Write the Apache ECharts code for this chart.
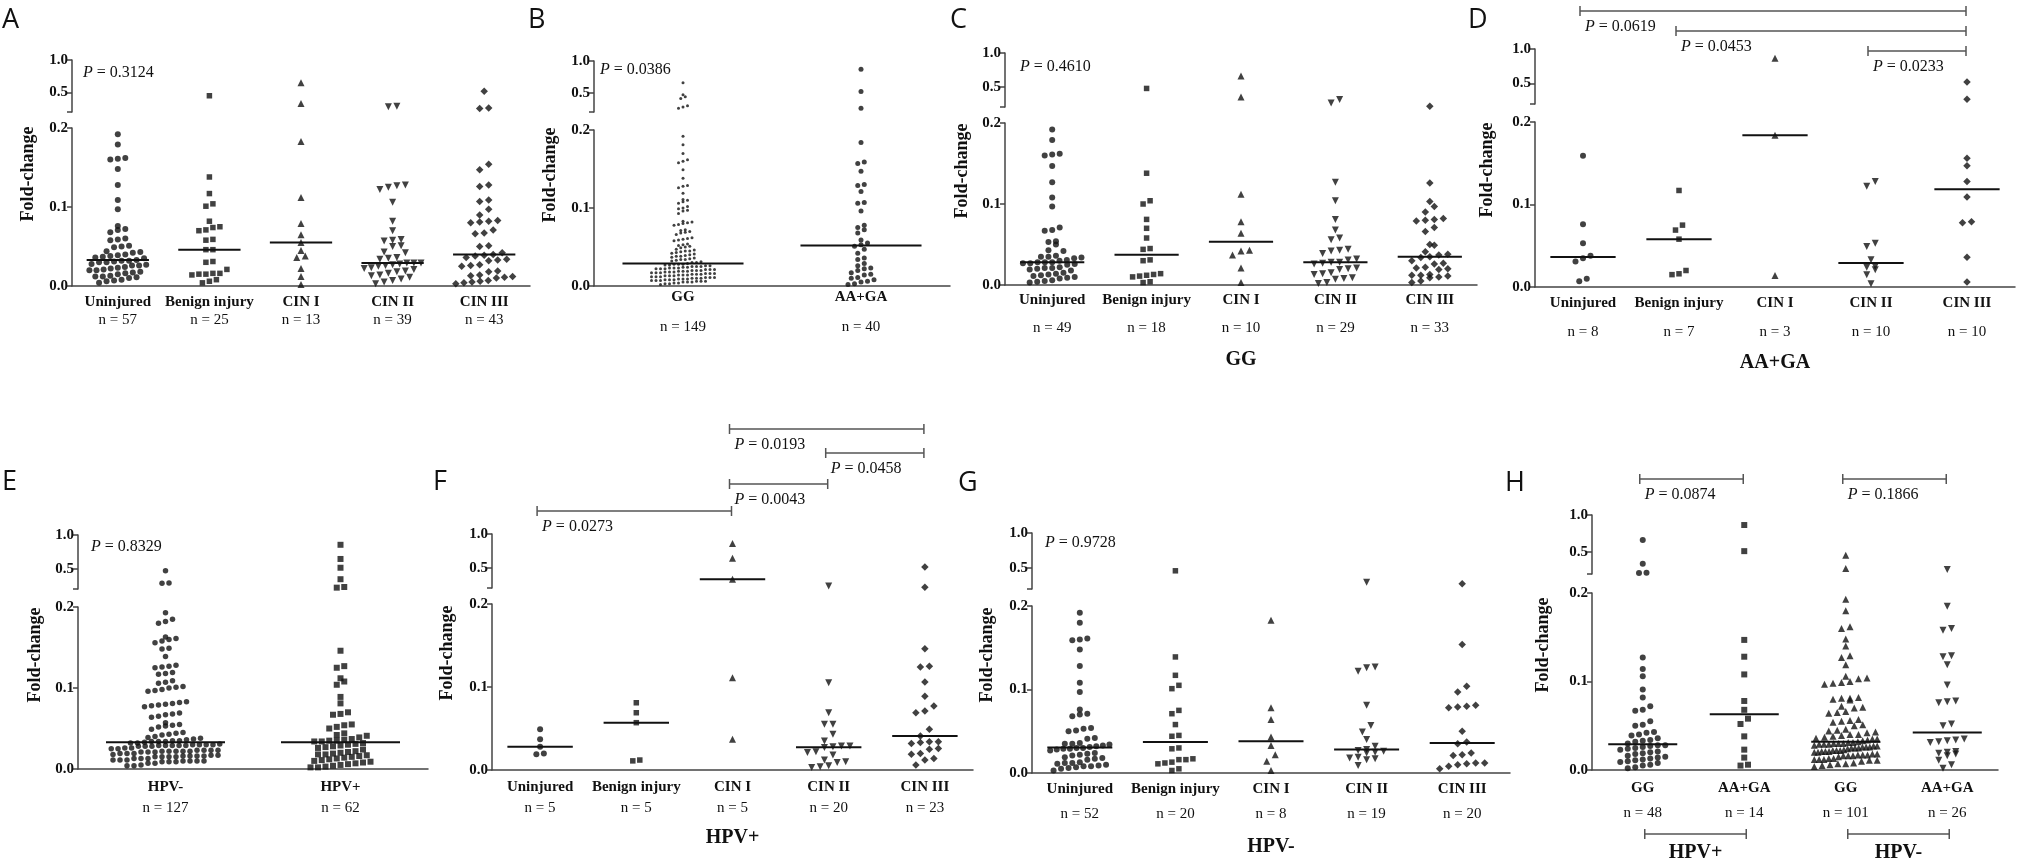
<!DOCTYPE html>
<html>
<head>
<meta charset="utf-8">
<script src="https://cdn.jsdelivr.net/npm/echarts@6/dist/echarts.min.js"></script>
<style>
  html, body { margin: 0; background: #fff; }
  #chart { width: 2024px; height: 864px; }
</style>
</head>
<body>
<div id="chart"></div>
<script>
// ---- categories ----
var catsStage = ['Uninjured', 'Benign injury', 'CIN I', 'CIN II', 'CIN III'];
var catsGeno = ['GG', 'AA+GA'];
var catsHpv = ['HPV-', 'HPV+'];
var catsH = ['GG', 'AA+GA', 'GG', 'AA+GA'];
var hGroupNames = ['HPV+', 'HPV-'];

// ---- tick labels ----
var lowerTicks = [0, 0.1, 0.2];
var upperTicks = [0.5, 1.0];

// ---- A: all samples by stage ----
var aUninjured = [0.192,0.179,0.162,0.161,0.160,0.148,0.128,0.109,0.097,0.076,0.072,0.071,0.068,0.060,0.059,0.058,0.051,0.050,0.049,0.044,0.043,0.042,0.040,0.039,0.038,0.037,0.036,0.035,0.033,0.032,0.032,0.031,0.030,0.030,0.028,0.027,0.026,0.026,0.024,0.023,0.022,0.021,0.020,0.020,0.018,0.017,0.016,0.015,0.013,0.012,0.012,0.011,0.010,0.008,0.007,0.006,0.004];
var aBenign = [0.45,0.138,0.117,0.104,0.101,0.082,0.075,0.074,0.071,0.070,0.059,0.058,0.046,0.046,0.031,0.030,0.021,0.016,0.016,0.015,0.015,0.014,0.008,0.006,0.004];
var aCin1 = [0.65,0.33,0.183,0.112,0.079,0.065,0.055,0.045,0.038,0.036,0.022,0.012,0.002];
var aCin2 = [0.29,0.28,0.128,0.127,0.125,0.122,0.106,0.082,0.070,0.059,0.058,0.057,0.051,0.050,0.043,0.042,0.036,0.035,0.034,0.029,0.029,0.029,0.028,0.027,0.026,0.025,0.023,0.022,0.021,0.019,0.018,0.016,0.014,0.013,0.011,0.009,0.007,0.005,0.003];
var aCin3 = [0.52,0.26,0.255,0.154,0.147,0.128,0.126,0.109,0.107,0.097,0.090,0.083,0.082,0.081,0.080,0.071,0.067,0.066,0.051,0.050,0.042,0.040,0.039,0.038,0.036,0.034,0.033,0.032,0.027,0.026,0.025,0.019,0.018,0.014,0.013,0.012,0.011,0.010,0.007,0.006,0.005,0.004,0.003];

// ---- B: genotype ----
var bGG = [0.66,0.47,0.44,0.41,0.30,0.28,0.26,
  0.192,0.181,0.170,0.162,0.160,0.158,0.149,0.138,0.129,0.128,0.126,0.119,0.111,0.110,0.108,0.106,0.102,0.100,0.099,0.097,0.096,0.093,0.083,0.082,0.081,0.080,0.079,0.078,0.072,0.071,0.070,0.069,0.068,0.066,0.062,0.061,0.060,0.059,0.058,0.054,0.053,0.052,0.051,0.050,0.049,
  0.047,0.046,0.045,0.045,0.044,0.043,0.042,0.041,0.040,0.039,0.038,0.038,0.037,0.036,0.035,0.034,0.034,0.033,0.032,0.031,0.030,0.030,
  0.029,
  0.028,0.028,0.028,0.027,0.027,0.026,0.026,0.025,0.025,0.025,0.024,0.024,0.023,0.023,0.023,0.022,0.022,0.022,0.021,0.021,0.021,0.020,
  0.020,0.020,0.019,0.019,0.019,0.018,0.018,0.018,0.017,0.017,0.017,0.016,0.016,0.016,0.015,0.015,0.015,0.014,0.014,0.014,0.013,
  0.013,0.013,0.012,0.012,0.012,0.011,0.011,0.011,0.010,0.010,0.010,0.009,0.009,0.009,0.008,0.008,0.008,0.007,0.007,
  0.007,0.006,0.006,0.006,0.005,0.005,0.005,0.004,0.004,0.003,0.003,0.002];
var bAAGA = [0.87,0.52,0.26,0.184,0.159,0.157,0.147,0.130,0.129,0.121,0.107,0.106,0.096,0.078,0.075,0.072,0.068,0.059,0.055,0.053,0.051,0.047,0.042,0.036,0.034,0.029,0.026,0.023,0.022,0.020,0.017,0.015,0.014,0.011,0.010,0.008,0.006,0.005,0.003,0.002];

// ---- C: GG by stage ----
var cUninjured = [0.192,0.179,0.162,0.161,0.160,0.147,0.127,0.108,0.097,0.071,0.068,0.067,0.054,0.053,0.050,0.043,0.042,0.036,0.035,0.035,0.034,0.033,0.031,0.030,0.028,0.028,0.028,0.027,0.027,0.026,0.025,0.022,0.021,0.021,0.020,0.019,0.018,0.015,0.014,0.013,0.012,0.011,0.010,0.009,0.008,0.006,0.005,0.004,0.003];
var cBenign = [0.475,0.138,0.104,0.100,0.081,0.070,0.058,0.045,0.044,0.031,0.030,0.014,0.013,0.012,0.011,0.010,0.004,0.003];
var cCin1 = [0.66,0.35,0.112,0.078,0.064,0.043,0.042,0.037,0.021,0.003];
var cCin2 = [0.31,0.26,0.127,0.104,0.081,0.068,0.058,0.056,0.044,0.043,0.042,0.039,0.032,0.031,0.028,0.028,0.027,0.026,0.021,0.020,0.019,0.015,0.014,0.013,0.009,0.008,0.007,0.003,0.002];
var cCin3 = [0.21,0.126,0.103,0.097,0.090,0.082,0.081,0.080,0.079,0.071,0.066,0.050,0.049,0.041,0.038,0.037,0.035,0.034,0.030,0.027,0.026,0.022,0.021,0.020,0.019,0.013,0.012,0.012,0.011,0.010,0.009,0.005,0.003];

// ---- D: AA+GA by stage ----
var dUninjured = [0.159,0.076,0.053,0.038,0.035,0.031,0.010,0.007];
var dBenign = [0.117,0.075,0.069,0.058,0.020,0.016,0.015];
var dCin1 = [0.865,0.184,0.014];
var dCin2 = [0.128,0.122,0.053,0.049,0.033,0.025,0.024,0.021,0.015,0.004];
var dCin3 = [0.52,0.27,0.156,0.147,0.128,0.109,0.079,0.078,0.036,0.006];

// ---- E: HPV status ----
var eHpvNeg = [0.47,0.29,0.285,
  0.193,0.185,0.182,0.180,0.163,0.161,0.160,0.158,0.156,0.149,0.148,0.139,0.128,0.127,0.126,0.125,0.119,0.118,0.117,0.109,0.107,0.106,0.102,0.101,0.100,0.098,0.097,0.096,0.083,0.082,0.081,0.080,0.079,0.078,0.077,0.069,0.068,0.067,0.065,0.064,0.057,0.055,0.054,0.053,0.052,0.049,0.045,0.044,0.043,0.042,0.040,0.039,0.038,0.037,0.036,0.035,0.035,0.034,0.034,0.034,
  0.033,
  0.032,0.032,0.031,
  0.030,0.030,0.030,0.030,0.029,0.029,0.029,0.029,0.029,0.028,0.028,0.028,
  0.026,0.026,0.025,0.025,
  0.023,0.023,0.023,0.023,0.022,0.022,0.022,0.022,0.022,0.021,0.021,0.021,
  0.019,0.019,0.019,0.018,
  0.017,0.017,0.016,0.016,0.016,0.016,0.015,0.015,0.015,0.015,
  0.013,0.013,0.013,
  0.011,0.011,0.011,0.010,0.010,0.010,0.010,0.009,0.009,0.009,
  0.007,0.007,
  0.005,0.004,0.004];
var eHpvPos = [0.855,0.645,0.515,0.345,0.23,0.22,0.146,0.127,0.125,0.112,0.108,0.104,0.089,0.081,0.070,0.068,0.067,0.055,0.054,0.052,0.050,0.044,0.042,0.041,0.039,0.037,0.036,0.035,0.035,0.034,0.034,0.032,0.031,0.030,0.029,0.028,0.027,0.026,0.024,0.022,0.021,0.020,0.019,0.018,0.018,0.017,0.016,0.015,0.014,0.013,0.012,0.011,0.010,0.009,0.008,0.007,0.006,0.005,0.004,0.003,0.002,0.002];

// ---- F: HPV+ by stage ----
var fUninjured = [0.049,0.037,0.028,0.020,0.019];
var fBenign = [0.081,0.069,0.057,0.012,0.011];
var fCin1 = [0.86,0.64,0.33,0.111,0.037];
var fCin2 = [0.23,0.105,0.069,0.055,0.055,0.043,0.035,0.029,0.029,0.028,0.027,0.022,0.021,0.018,0.012,0.010,0.009,0.005,0.004,0.003];
var fCin3 = [0.51,0.21,0.146,0.125,0.124,0.106,0.089,0.077,0.071,0.069,0.049,0.041,0.034,0.034,0.033,0.032,0.026,0.025,0.020,0.019,0.014,0.012,0.006];

// ---- G: HPV- by stage ----
var gUninjured = [0.192,0.180,0.161,0.160,0.159,0.148,0.128,0.108,0.097,0.076,0.071,0.070,0.068,0.054,0.053,0.051,0.050,0.042,0.041,0.036,0.035,0.035,0.034,0.033,0.032,0.031,0.030,0.030,0.029,0.029,0.028,0.027,0.024,0.023,0.022,0.021,0.019,0.018,0.017,0.016,0.013,0.012,0.012,0.011,0.010,0.009,0.008,0.008,0.007,0.006,0.005,0.003];
var gBenign = [0.46,0.139,0.117,0.105,0.101,0.075,0.071,0.058,0.045,0.044,0.030,0.029,0.017,0.016,0.016,0.013,0.012,0.011,0.005,0.003];
var gCin1 = [0.183,0.078,0.064,0.043,0.033,0.022,0.014,0.003];
var gCin2 = [0.295,0.127,0.126,0.122,0.081,0.057,0.049,0.040,0.032,0.028,0.027,0.026,0.025,0.024,0.019,0.018,0.017,0.016,0.009];
var gCin3 = [0.275,0.154,0.104,0.097,0.081,0.080,0.079,0.078,0.050,0.037,0.035,0.024,0.022,0.021,0.012,0.012,0.011,0.010,0.008,0.005];

// ---- H: genotype within HPV status ----
var hGGPos = [0.66,0.34,0.218,0.215,0.127,0.114,0.106,0.091,0.082,0.072,0.068,0.067,0.055,0.051,0.050,0.043,0.042,0.040,0.039,0.036,0.034,0.033,0.032,0.030,0.028,0.028,0.027,0.026,0.025,0.024,0.023,0.021,0.020,0.019,0.018,0.016,0.015,0.014,0.013,0.012,0.011,0.010,0.009,0.008,0.006,0.005,0.003,0.002];
var hAAGAPos = [0.864,0.51,0.147,0.128,0.108,0.078,0.068,0.058,0.052,0.038,0.023,0.014,0.006,0.005];
var hGGNeg = [0.455,0.273,
  0.193,0.180,0.162,0.160,0.148,0.140,0.129,0.127,0.119,0.106,0.104,0.103,0.100,0.099,0.098,0.097,0.082,0.081,0.081,0.080,0.079,0.072,0.071,0.070,0.066,0.065,0.064,0.057,0.056,0.055,0.054,0.051,0.050,0.046,0.045,0.044,0.043,0.042,0.040,0.040,0.039,0.038,0.037,0.036,0.035,0.035,0.034,0.033,
  0.032,
  0.031,0.031,0.030,0.030,0.030,0.029,0.029,0.029,0.028,
  0.027,0.027,0.026,0.026,0.026,0.025,0.025,0.025,0.024,
  0.023,0.022,0.022,0.022,0.021,0.021,0.021,0.020,0.020,
  0.018,0.018,0.017,0.017,0.017,0.016,0.016,0.016,0.015,
  0.013,0.013,0.012,0.012,0.012,0.011,0.011,0.010,
  0.008,0.007,0.007,0.006,0.005,0.004];
var hAAGANeg = [0.26,0.185,0.160,0.158,0.129,0.128,0.119,0.096,0.078,0.077,0.076,0.052,0.050,0.035,0.034,0.033,0.032,0.031,0.021,0.020,0.019,0.018,0.016,0.011,0.006,0.002];

// ---- P values ----
var pA = '0.3124', pB = '0.0386', pC = '0.4610', pE = '0.8329', pG = '0.9728';
var dBrackets = [[0, 4, '0.0619'], [1, 4, '0.0453'], [3, 4, '0.0233']];
var fBrackets = [[2, 4, '0.0193'], [3, 4, '0.0458'], [2, 3, '0.0043'], [0, 2, '0.0273']];
var hBrackets = [[0, 1, '0.0874'], [2, 3, '0.1866']];

// ---- marker styles ----
var stageMarks = [
  { symbol: 'circle', size: 6 },
  { symbol: 'rect', size: 5.5 },
  { symbol: 'triangle', size: 7 },
  { symbol: 'triangle', size: 7, rotate: 180 },
  { symbol: 'diamond', size: 7.5 }
];
var genoMarks = [{ symbol: 'circle', size: 3 }, { symbol: 'circle', size: 5 }];
var hpvMarks = [{ symbol: 'circle', size: 5.5 }, { symbol: 'rect', size: 6 }];
var hMarks = [
  { symbol: 'circle', size: 6 },
  { symbol: 'rect', size: 6 },
  { symbol: 'triangle', size: 7 },
  { symbol: 'triangle', size: 7, rotate: 180 }
];

var panels = [
  { name: 'A', cats: catsStage, groups: [aUninjured, aBenign, aCin1, aCin2, aCin3], marks: stageMarks },
  { name: 'B', cats: catsGeno, groups: [bGG, bAAGA], marks: genoMarks },
  { name: 'C', cats: catsStage, groups: [cUninjured, cBenign, cCin1, cCin2, cCin3], marks: stageMarks },
  { name: 'D', cats: catsStage, groups: [dUninjured, dBenign, dCin1, dCin2, dCin3], marks: stageMarks },
  { name: 'E', cats: catsHpv, groups: [eHpvNeg, eHpvPos], marks: hpvMarks },
  { name: 'F', cats: catsStage, groups: [fUninjured, fBenign, fCin1, fCin2, fCin3], marks: stageMarks },
  { name: 'G', cats: catsStage, groups: [gUninjured, gBenign, gCin1, gCin2, gCin3], marks: stageMarks },
  { name: 'H', cats: catsH, groups: [hGGPos, hAAGAPos, hGGNeg, hAAGANeg], marks: hMarks }
];

// ---- layout (pixels) ----
var layout = [
  { left: 72,   width: 458, lowTop: 128, lowH: 158, upTop: 60,  upH: 52, letter: [2, 20],    fold: [28, 174],  nameC: 16, nGap: 18 },
  { left: 594,  width: 356, lowTop: 130, lowH: 156, upTop: 61,  upH: 51, letter: [528, 20],  fold: [550, 175], nameC: 11, nGap: 30 },
  { left: 1005, width: 472, lowTop: 123, lowH: 162, upTop: 53,  upH: 54, letter: [950, 20],  fold: [962, 171], nameC: 15, nGap: 28 },
  { left: 1535, width: 480, lowTop: 122, lowH: 165, upTop: 49,  upH: 55, letter: [1468, 20], fold: [1487, 170], nameC: 16, nGap: 29 },
  { left: 78,   width: 350, lowTop: 607, lowH: 162, upTop: 535, upH: 54, letter: [2, 482],   fold: [35, 655],  nameC: 18, nGap: 21 },
  { left: 492,  width: 481, lowTop: 604, lowH: 166, upTop: 534, upH: 54, letter: [433, 482], fold: [447, 653], nameC: 17, nGap: 21 },
  { left: 1032, width: 478, lowTop: 606, lowH: 167, upTop: 533, upH: 56, letter: [958, 483], fold: [987, 655], nameC: 16, nGap: 25 },
  { left: 1592, width: 406, lowTop: 593, lowH: 177, upTop: 515, upH: 59, letter: [1505, 483], fold: [1543, 645], nameC: 18, nGap: 25 }
];

var SERIF = 'Liberation Serif';
var INK = '#111';
var AXIS = '#444';
var BRK = '#555';

function median(vals) {
  var s = vals.slice().sort(function (a, b) { return a - b; });
  var m = Math.floor(s.length / 2);
  return s.length % 2 ? s[m] : (s[m - 1] + s[m]) / 2;
}

// rows of points side by side, squeezed when a row gets wider than maxW
function swarm(vals, base, ppu, d, maxW) {
  var s = vals.slice().sort(function (a, b) { return a - b; });
  var out = [], row = [], start = null;
  function flush() {
    var k = row.length;
    var step = k > 1 ? Math.min(d, maxW / (k - 1)) : 0;
    row.forEach(function (v, i) { out.push([v, (i - (k - 1) / 2) * step]); });
    row = [];
  }
  s.forEach(function (v) {
    var y = (v - base) * ppu;
    if (start === null || y - start >= d * 0.8) { flush(); start = y; }
    row.push(v);
  });
  flush();
  return out;
}

var chart = echarts.init(document.getElementById('chart'));
var grids = [], xAxes = [], yAxes = [], series = [];
var labelFont = { fontFamily: SERIF, fontWeight: 'bold', fontSize: 15, color: INK };

panels.forEach(function (p, pi) {
  var L = layout[pi];
  var gLow = pi * 2, gUp = pi * 2 + 1;
  var band = L.width / p.cats.length;
  grids.push({ left: L.left, top: L.lowTop, width: L.width, height: L.lowH, outerBoundsMode: 'none' });
  grids.push({ left: L.left, top: L.upTop, width: L.width, height: L.upH, outerBoundsMode: 'none' });
  var catIdx = p.cats.map(function (c, i) { return String(i); });

  xAxes.push({
    type: 'category', gridIndex: gLow, data: catIdx,
    axisLine: { lineStyle: { color: AXIS, width: 1.5 } },
    axisTick: { alignWithLabel: true, length: 5, lineStyle: { color: AXIS, width: 1.5 } },
    axisLabel: {
      interval: 0, margin: L.nameC - 9,
      formatter: function (v, i) { return '{c|' + p.cats[i] + '}\n{n|n = ' + p.groups[i].length + '}'; },
      rich: {
        c: { fontFamily: SERIF, fontWeight: 'bold', fontSize: 15, lineHeight: 18, color: INK },
        n: { fontFamily: SERIF, fontSize: 15, lineHeight: 2 * L.nGap - 18, color: INK }
      }
    }
  });
  xAxes.push({ type: 'category', gridIndex: gUp, data: catIdx, show: false });

  yAxes.push({
    type: 'value', gridIndex: gLow, min: lowerTicks[0], max: lowerTicks[2], interval: 0.1,
    axisLine: { show: true, lineStyle: { color: AXIS, width: 1.5 } },
    axisTick: { show: true, length: 5, lineStyle: { color: AXIS, width: 1.5 } },
    splitLine: { show: false },
    axisLabel: Object.assign({ margin: 4, formatter: function (v) { return v.toFixed(1); } }, labelFont)
  });
  yAxes.push({
    type: 'value', gridIndex: gUp, min: 0.2, max: 1.0,
    axisLine: { show: true, lineStyle: { color: AXIS, width: 1.5 } },
    axisTick: { show: true, length: 5, customValues: [0.2].concat(upperTicks), lineStyle: { color: AXIS, width: 1.5 } },
    splitLine: { show: false },
    axisLabel: Object.assign({ margin: 4, customValues: upperTicks, formatter: function (v) { return v.toFixed(1); } }, labelFont)
  });

  p.groups.forEach(function (vals, g) {
    var m = p.marks[g];
    var low = vals.filter(function (v) { return v <= 0.2; });
    var up = vals.filter(function (v) { return v > 0.2; });
    [[low, gLow, L.lowH / 0.2, 0], [up, gUp, L.upH / 0.8, 0.2]].forEach(function (part) {
      if (!part[0].length) return;
      series.push({
        type: 'scatter', xAxisIndex: part[1], yAxisIndex: part[1], silent: true,
        symbol: m.symbol, symbolSize: m.size, symbolRotate: m.rotate || 0,
        itemStyle: { color: INK },
        data: swarm(part[0], part[3], part[2], m.size + 1.5, band * 0.62).map(function (d) {
          return { value: [g, d[0]], symbolOffset: [d[1], 0] };
        })
      });
    });
    var med = median(vals);
    var gi = med > 0.2 ? gUp : gLow;
    series.push({
      type: 'custom', xAxisIndex: gi, yAxisIndex: gi, z: 5, silent: true,
      data: [[g, med]],
      renderItem: function (params, api) {
        var c = api.coord([api.value(0), api.value(1)]);
        var w = api.size([1, 0])[0] * 0.34;
        return { type: 'line', shape: { x1: c[0] - w, y1: c[1], x2: c[0] + w, y2: c[1] },
          style: { stroke: INK, lineWidth: 2 } };
      }
    });
  });
});

chart.setOption({
  animation: false,
  backgroundColor: '#fff',
  grid: grids, xAxis: xAxes, yAxis: yAxes, series: series
});

// ---- annotations ----
var graphic = [];
function catX(pi, i) { return chart.convertToPixel({ gridIndex: pi * 2 }, [i, 0])[0]; }
function text(x, y, str, font, extra) {
  var el = { type: 'text', x: x, y: y, silent: true,
    style: Object.assign({ text: str, fill: INK, align: 'left', verticalAlign: 'middle' }, font) };
  return Object.assign(el, extra || {});
}
function pText(x, y, val) {
  return text(x, y, '{i|P} = ' + val, { fontFamily: SERIF, fontSize: 16,
    rich: { i: { fontFamily: SERIF, fontSize: 16, fontStyle: 'italic', fill: INK } } });
}
function line(x1, y1, x2, y2) {
  return { type: 'line', silent: true, shape: { x1: x1, y1: y1, x2: x2, y2: y2 },
    style: { stroke: BRK, lineWidth: 1.5 } };
}
function bracket(x1, x2, y) {
  graphic.push(line(x1, y, x2, y), line(x1, y - 5, x1, y + 5), line(x2, y - 5, x2, y + 5));
}

panels.forEach(function (p, pi) {
  var L = layout[pi];
  graphic.push(text(L.letter[0], L.letter[1], p.name, { fontFamily: 'Open Sans', fontSize: 27 }));
  graphic.push(text(L.fold[0], L.fold[1], 'Fold-change',
    { fontFamily: SERIF, fontWeight: 'bold', fontSize: 18, align: 'center' }, { rotation: Math.PI / 2 }));
});

graphic.push(pText(83, 73, pA), pText(600, 70, pB), pText(1020, 67, pC), pText(91, 547, pE), pText(1045, 543, pG));

var dY = [11, 31, 51], fY = [429, 453, 484, 511], hY = [479, 479];
[[3, dBrackets, dY], [5, fBrackets, fY], [7, hBrackets, hY]].forEach(function (set) {
  set[1].forEach(function (b, k) {
    var x1 = catX(set[0], b[0]) - 3, x2 = catX(set[0], b[1]) - 1;
    bracket(x1, x2, set[2][k]);
    graphic.push(pText(x1 + 5, set[2][k] + 16, b[2]));
  });
});

var groupFont = { fontFamily: SERIF, fontWeight: 'bold', fontSize: 20, align: 'center' };
graphic.push(text(catX(2, 2), 360, 'GG', groupFont));
graphic.push(text(catX(3, 2), 363, 'AA+GA', groupFont));
graphic.push(text(catX(5, 2), 838, 'HPV+', groupFont));
graphic.push(text(catX(6, 2), 847, 'HPV-', groupFont));
[[0, 1], [2, 3]].forEach(function (pair, k) {
  var x1 = catX(7, pair[0]) + 2, x2 = catX(7, pair[1]) + 2;
  bracket(x1, x2, 834);
  graphic.push(text((x1 + x2) / 2, 853, hGroupNames[k], groupFont));
});

chart.setOption({ graphic: graphic });
</script>
</body>
</html>
